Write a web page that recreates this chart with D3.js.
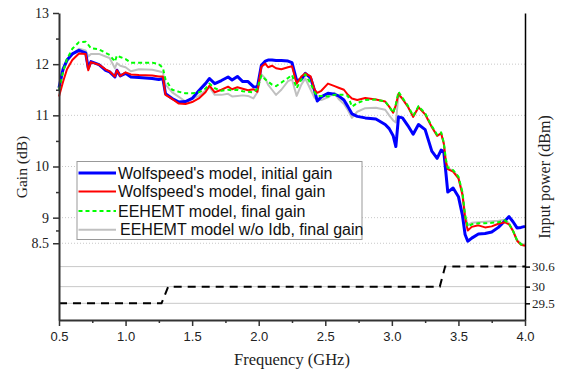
<!DOCTYPE html>
<html><head><meta charset="utf-8">
<script src="https://cdn.jsdelivr.net/npm/d3@7"></script>
<style>body{margin:0;background:#fff;} svg{display:block;}</style>
</head><body>
<svg id="chart" width="563" height="373"></svg>
<script>
// ---- data ----
const freq = [0.50,0.53,0.56,0.60,0.65,0.70,0.72,0.74,0.80,0.85,0.88,0.92,0.935,0.96,1.00,1.04,1.10,1.20,1.25,1.28,1.30,1.35,1.40,1.45,1.50,1.55,1.60,1.63,1.67,1.72,1.77,1.80,1.84,1.88,1.92,1.96,1.99,2.02,2.05,2.07,2.10,2.13,2.17,2.22,2.25,2.285,2.32,2.35,2.39,2.42,2.44,2.47,2.52,2.57,2.60,2.64,2.67,2.70,2.74,2.80,2.88,2.95,2.98,3.01,3.03,3.05,3.08,3.12,3.16,3.20,3.25,3.30,3.34,3.37,3.39,3.405,3.42,3.46,3.50,3.53,3.55,3.57,3.60,3.65,3.70,3.75,3.80,3.85,3.88,3.91,3.94,3.97,4.00];

const wolfInitial = [11.54,11.90,12.08,12.20,12.27,12.22,11.92,12.05,11.99,11.88,11.85,11.75,11.88,11.77,11.82,11.75,11.74,11.72,11.70,11.72,11.42,11.33,11.26,11.27,11.33,11.48,11.62,11.72,11.62,11.68,11.75,11.69,11.76,11.66,11.66,11.56,11.55,11.98,12.06,12.08,12.08,12.07,12.07,12.06,12.03,11.68,11.70,11.82,11.73,11.48,11.28,11.36,11.43,11.41,11.38,11.30,11.17,11.03,10.98,10.95,10.93,10.82,10.74,10.60,10.39,10.97,10.95,10.80,10.63,10.82,10.72,10.30,10.16,10.32,10.29,9.90,9.50,9.58,9.41,9.05,8.67,8.54,8.60,8.68,8.69,8.72,8.81,8.94,9.02,8.92,8.80,8.81,8.83];

const wolfFinal = [11.37,11.65,11.90,12.08,12.21,12.20,11.88,12.04,11.99,11.90,11.86,11.76,11.88,11.77,11.84,11.80,11.79,11.78,11.76,11.76,11.40,11.32,11.23,11.22,11.26,11.33,11.45,11.58,11.45,11.50,11.56,11.51,11.55,11.52,11.49,11.51,11.46,11.95,12.01,11.94,11.97,11.92,11.90,11.94,11.96,11.62,11.76,11.82,11.76,11.50,11.44,11.48,11.62,11.57,11.54,11.50,11.40,11.33,11.30,11.34,11.31,11.27,11.17,11.05,11.20,11.42,11.32,11.17,10.97,11.16,11.02,10.77,10.60,10.65,10.45,10.10,9.95,9.90,9.77,9.45,9.00,8.75,8.82,8.85,8.81,8.83,8.88,8.91,8.87,8.74,8.55,8.47,8.45];

const eehemtFinal = [11.50,11.85,12.10,12.30,12.43,12.44,12.38,12.31,12.29,12.22,12.18,12.05,12.17,12.14,12.10,12.03,12.03,12.03,12.00,11.93,11.70,11.50,11.46,11.43,11.43,11.45,11.52,11.62,11.53,11.48,11.50,11.49,11.50,11.47,11.46,11.45,11.52,11.78,11.70,11.66,11.60,11.57,11.64,11.73,11.79,11.53,11.70,11.80,11.62,11.45,11.38,11.38,11.37,11.40,11.40,11.40,11.38,11.17,11.24,11.30,11.31,11.27,11.17,11.05,11.22,11.46,11.34,11.19,10.99,11.18,11.04,10.79,10.62,10.67,10.47,10.15,9.98,9.93,9.80,9.50,9.05,8.82,8.87,8.89,8.89,8.90,8.91,8.95,8.88,8.74,8.56,8.48,8.46];

const eehemtNoIdb = [11.50,11.85,12.05,12.20,12.30,12.27,12.15,12.20,12.20,12.15,12.12,11.92,12.02,11.97,11.94,11.86,11.90,11.89,11.86,11.84,11.60,11.45,11.36,11.27,11.32,11.38,11.48,11.55,11.40,11.40,11.42,11.37,11.38,11.39,11.38,11.33,11.45,11.80,11.72,11.60,11.50,11.40,11.50,11.67,11.70,11.38,11.60,11.72,11.50,11.34,11.30,11.30,11.35,11.44,11.32,11.22,11.10,10.95,11.07,11.14,11.15,11.11,11.00,10.90,10.86,11.40,11.32,11.17,10.97,11.16,11.02,10.77,10.60,10.65,10.46,10.12,9.97,9.92,9.79,9.50,9.05,8.86,8.90,8.91,8.92,8.93,8.94,8.96,8.89,8.75,8.57,8.49,8.47];

const powerFreq = [0.50,1.27,1.32,3.36,3.40,4.00];
const powerVals = [29.5,29.5,30.0,30.0,30.6,30.6];

const legendLabels = ["Wolfspeed's model, initial gain","Wolfspeed's model, final gain","EEHEMT model, final gain","EEHEMT model w/o Idb, final gain"];
const gainTicks = [8.5,9,10,11,12,13];
const gainMinorTicks = [8.75,9.5,10.5,11.5,12.5];
const gainGrid = [8.5,9,10,11,12];
const powerTicks = [29.5,30,30.6];
const freqTicks = [0.5,1.0,1.5,2.0,2.5,3.0,3.5,4.0];
const freqMinorTicks = [0.75,1.25,1.75,2.25,2.75,3.25,3.75];

// ---- scales ----
const svg = d3.select("#chart");
const x = d3.scaleLinear().domain([0.5,4.0]).range([59,525]);
const yG = d3.scaleLinear().domain([7,13]).range([320,13]);
const yP = d3.scaleLinear().domain([29,38.2]).range([320,13]);

const serif = "'Liberation Serif','Times New Roman',serif";
const sans = "'Liberation Sans',Arial,sans-serif";

// gridlines
svg.append("g").selectAll("line").data(gainGrid).join("line")
  .attr("x1",x(0.5)).attr("x2",x(4.0)).attr("y1",d=>yG(d)).attr("y2",d=>yG(d))
  .attr("stroke","#c8c8c8").attr("stroke-width",1).attr("stroke-dasharray","1,2");
svg.append("g").selectAll("line").data(powerTicks).join("line")
  .attr("x1",x(0.5)).attr("x2",x(4.0)).attr("y1",d=>yP(d)).attr("y2",d=>yP(d))
  .attr("stroke","#c8c8c8").attr("stroke-width",1);

// series
const series = [
  {vals: eehemtNoIdb, color:"#c0c0c0", w:2, dash:null},
  {vals: wolfInitial, color:"#0000ff", w:3, dash:null},
  {vals: wolfFinal, color:"#ff0000", w:2, dash:null},
  {vals: eehemtFinal, color:"#00ff00", w:2, dash:"4,3"}
];
const line = d3.line().x((d,i)=>x(freq[i])).y(d=>yG(d));
svg.append("g").selectAll("path").data(series).join("path")
  .attr("d",d=>line(d.vals)).attr("fill","none")
  .attr("stroke",d=>d.color).attr("stroke-width",d=>d.w)
  .attr("stroke-dasharray",d=>d.dash).attr("stroke-linejoin","round");

// power line
const pLine = d3.line().x((d,i)=>x(powerFreq[i])).y(d=>yP(d));
svg.append("path").attr("d",pLine(powerVals)).attr("fill","none")
  .attr("stroke","#000").attr("stroke-width",2).attr("stroke-dasharray","8,6");

// axes
const styleAxis = (g, col, w) => {
  g.select(".domain").attr("stroke",col).attr("stroke-width",w);
  g.selectAll(".tick line").attr("stroke",col).attr("stroke-width",1.5);
};
// left
const gl = svg.append("g").attr("transform",`translate(${x(0.5)},0)`)
  .call(d3.axisLeft(yG).tickValues(gainTicks).tickSize(6).tickSizeOuter(0).tickPadding(4)
    .tickFormat(d=>d===8.5?"8.5":d3.format("d")(d)));
styleAxis(gl,"#333",2);
gl.selectAll("text").attr("font-family",serif).attr("font-size",14).attr("fill","#222");
svg.append("g").attr("transform",`translate(${x(0.5)},0)`)
  .call(d3.axisLeft(yG).tickValues(gainMinorTicks).tickSize(3).tickFormat(""))
  .call(g=>{g.select(".domain").remove(); g.selectAll("line").attr("stroke","#333").attr("stroke-width",1.5);});

// right
const gr = svg.append("g").attr("transform",`translate(${x(4.0)},0)`)
  .call(d3.axisRight(yP).tickValues(powerTicks).tickSize(5).tickSizeOuter(0).tickPadding(2)
    .tickFormat(d=>String(d)));
styleAxis(gr,"#000",1.5);
gr.selectAll("text").attr("font-family",serif).attr("font-size",13).attr("fill","#222");

// bottom
const gb = svg.append("g").attr("transform",`translate(0,${yG(7)})`)
  .call(d3.axisBottom(x).tickValues(freqTicks).tickSize(6).tickSizeOuter(0).tickPadding(6)
    .tickFormat(d3.format(".1f")));
styleAxis(gb,"#333",2);
gb.selectAll("text").attr("font-family",sans).attr("font-size",13).attr("fill","#222");
svg.append("g").attr("transform",`translate(0,${yG(7)})`)
  .call(d3.axisBottom(x).tickValues(freqMinorTicks).tickSize(3).tickFormat(""))
  .call(g=>{g.select(".domain").remove(); g.selectAll("line").attr("stroke","#333").attr("stroke-width",1.5);});

// axis titles
svg.append("text").attr("transform","translate(27,167) rotate(-90)").attr("text-anchor","middle")
  .attr("font-family",serif).attr("font-size",15.5).attr("fill","#222").text("Gain (dB)");
svg.append("text").attr("transform","translate(550,177) rotate(-90)").attr("text-anchor","middle")
  .attr("font-family",serif).attr("font-size",16).attr("fill","#222").text("Input power (dBm)");
svg.append("text").attr("x",292).attr("y",365).attr("text-anchor","middle")
  .attr("font-family",serif).attr("font-size",16.5).attr("fill","#222").text("Frequency (GHz)");

// legend
const lg = svg.append("g");
lg.append("rect").attr("x",77).attr("y",161.5).attr("width",285).attr("height",78)
  .attr("fill","#fff").attr("stroke","#999").attr("stroke-width",1);
const items = series.slice(1).concat([series[0]]);
const legendY = [173,191.5,211,229.7];
items.forEach((s,i)=>{
  const yy = legendY[i];
  lg.append("line").attr("x1",78.5).attr("x2",116).attr("y1",yy).attr("y2",yy)
    .attr("stroke",s.color).attr("stroke-width",s.w).attr("stroke-dasharray",s.dash);
  lg.append("text").attr("x",i===3?120:118).attr("y",yy+5.5).attr("font-family",sans).attr("font-size",16)
    .attr("fill","#111").text(legendLabels[i]);
});
</script>
</body></html>
